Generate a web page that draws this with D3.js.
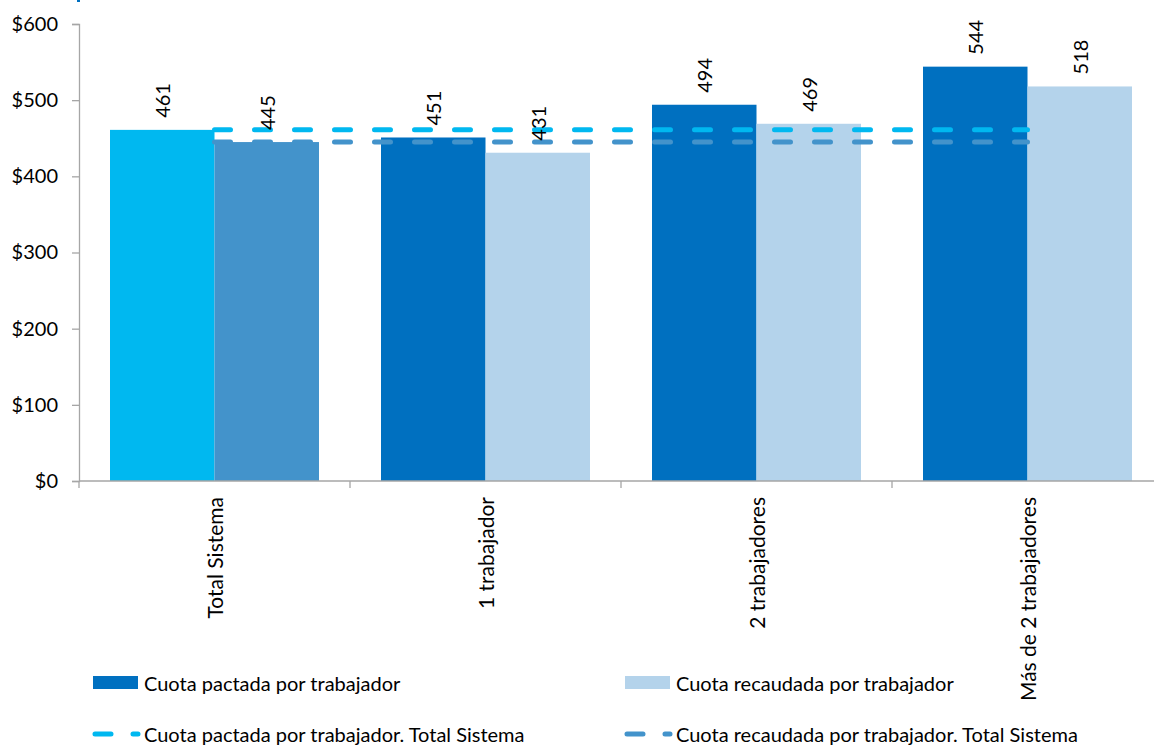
<!DOCTYPE html>
<html>
<head>
<meta charset="utf-8">
<script src="https://cdn.jsdelivr.net/npm/d3@7"></script>
<style>
  body { margin: 0; background: #fff; }
  text { font-family: Lato, "Noto Sans", sans-serif; fill: #000; }
</style>
</head>
<body>
<script>
var w = 1154;
var h = 746;

//Data
var categories = ["Total Sistema", "1 trabajador", "2 trabajadores", "Más de 2 trabajadores"];
var pactada = [461, 451, 494, 544];
var recaudada = [445, 431, 469, 518];
var totalPactada = 461;
var totalRecaudada = 445;
var yTicks = [0, 100, 200, 300, 400, 500, 600];
var legendNames = ["Cuota pactada por trabajador", "Cuota recaudada por trabajador",
  "Cuota pactada por trabajador. Total Sistema", "Cuota recaudada por trabajador. Total Sistema"];

//Colors: first group is drawn in its own colors
var cPactada = "#0070c0", cRecaudada = "#b4d3eb";
var cTotPactada = "#00b8f0", cTotRecaudada = "#4393cb";

var svg = d3.select("body")
  .append("svg")
  .attr("width", w)
  .attr("height", h);

var plotLeft = 79, plotRight = 1163, plotTop = 24, plotBottom = 481;

var x = d3.scaleBand()
  .domain(categories)
  .range([plotLeft, plotRight])
  .paddingInner(0)
  .paddingOuter(0);

var x1 = d3.scaleBand()
  .domain(["p", "r"])
  .range([0, x.bandwidth()])
  .paddingOuter(0.2967)
  .paddingInner(0);

var y = d3.scaleLinear()
  .domain([0, 600])
  .range([plotBottom, plotTop]);

//Y axis
var yAxis = svg.append("g")
  .attr("transform", "translate(" + plotLeft + ",0)")
  .call(d3.axisLeft(y).tickValues(yTicks).tickSize(7).tickPadding(14)
    .tickFormat(function(d) { return "$" + d; }));
yAxis.select(".domain").attr("stroke", "#a6a6a6").attr("stroke-width", 1.3);
yAxis.selectAll(".tick line").attr("stroke", "#a6a6a6").attr("stroke-width", 1.3);
yAxis.selectAll(".tick text").attr("font-size", 20).attr("fill", "#000")
  .style("font-family", "Lato, 'Noto Sans', sans-serif");

//Bars
var groups = svg.selectAll("g.grp")
  .data(categories)
  .enter()
  .append("g")
  .attr("class", "grp")
  .attr("transform", function(d) { return "translate(" + x(d) + ",0)"; });

groups.append("rect")
  .attr("x", x1("p"))
  .attr("width", x1.bandwidth())
  .attr("y", function(d, i) { return y(pactada[i]); })
  .attr("height", function(d, i) { return y(0) - y(pactada[i]); })
  .attr("fill", function(d, i) { return i == 0 ? cTotPactada : cPactada; });

groups.append("rect")
  .attr("x", x1("r"))
  .attr("width", x1.bandwidth())
  .attr("y", function(d, i) { return y(recaudada[i]); })
  .attr("height", function(d, i) { return y(0) - y(recaudada[i]); })
  .attr("fill", function(d, i) { return i == 0 ? cTotRecaudada : cRecaudada; });

//X axis (ticks between categories)
var xAxis = svg.append("g");
xAxis.append("line")
  .attr("x1", plotLeft).attr("x2", plotRight)
  .attr("y1", plotBottom).attr("y2", plotBottom)
  .attr("stroke", "#a6a6a6").attr("stroke-width", 1.3);
xAxis.selectAll("line.tk")
  .data(categories.concat(["end"]))
  .enter()
  .append("line")
  .attr("class", "tk")
  .attr("x1", function(d, i) { return plotLeft + i * x.bandwidth(); })
  .attr("x2", function(d, i) { return plotLeft + i * x.bandwidth(); })
  .attr("y1", plotBottom).attr("y2", plotBottom + 7)
  .attr("stroke", "#a6a6a6").attr("stroke-width", 1.3);
xAxis.selectAll("text")
  .data(categories)
  .enter()
  .append("text")
  .attr("transform", function(d) {
    return "translate(" + (x(d) + x.bandwidth() / 2) + "," + (plotBottom + 16) + ") rotate(-90)";
  })
  .attr("text-anchor", "end")
  .attr("dominant-baseline", "central")
  .attr("font-size", 21)
  .text(function(d) { return d; });

//Total Sistema reference lines
var line = d3.line()
  .x(function(d) { return x(d.c) + x.bandwidth() / 2; })
  .y(function(d) { return y(d.v); });

svg.append("path")
  .datum(categories.map(function(c) { return { c: c, v: totalRecaudada }; }))
  .attr("d", line)
  .attr("fill", "none")
  .attr("stroke", cTotRecaudada)
  .attr("stroke-width", 5)
  .attr("stroke-linecap", "round")
  .attr("stroke-dasharray", "16,24");

svg.append("path")
  .datum(categories.map(function(c) { return { c: c, v: totalPactada }; }))
  .attr("d", line)
  .attr("fill", "none")
  .attr("stroke", cTotPactada)
  .attr("stroke-width", 5)
  .attr("stroke-linecap", "round")
  .attr("stroke-dasharray", "16,24");

//Value labels
function addLabels(vals, key) {
  svg.selectAll("text.lbl" + key)
    .data(categories)
    .enter()
    .append("text")
    .attr("class", "lbl" + key)
    .attr("transform", function(d, i) {
      return "translate(" + (x(d) + x1(key) + x1.bandwidth() / 2) + "," + (y(vals[i]) - 12) + ") rotate(-90)";
    })
    .attr("text-anchor", "start")
    .attr("dominant-baseline", "central")
    .attr("font-size", 20)
    .text(function(d, i) { return vals[i]; });
}
addLabels(pactada, "p");
addLabels(recaudada, "r");

//Legend
var legend = svg.append("g");
var legendPos = [[93, 683], [625, 683], [93, 734], [625, 734]];

legend.append("rect").attr("x", legendPos[0][0]).attr("y", legendPos[0][1] - 7)
  .attr("width", 45).attr("height", 13).attr("fill", cPactada);
legend.append("rect").attr("x", legendPos[1][0]).attr("y", legendPos[1][1] - 7)
  .attr("width", 45).attr("height", 13).attr("fill", cRecaudada);
[cTotPactada, cTotRecaudada].forEach(function(c, i) {
  var p = legendPos[i + 2];
  legend.append("line")
    .attr("x1", p[0] + 2).attr("x2", p[0] + 45)
    .attr("y1", p[1]).attr("y2", p[1])
    .attr("stroke", c).attr("stroke-width", 5)
    .attr("stroke-linecap", "round")
    .attr("stroke-dasharray", "16,22");
});
legend.selectAll("text")
  .data(legendNames)
  .enter()
  .append("text")
  .attr("x", function(d, i) { return legendPos[i][0] + 51; })
  .attr("y", function(d, i) { return legendPos[i][1]; })
  .attr("dominant-baseline", "central")
  .attr("font-size", 20)
  .text(function(d) { return d; });

//cut-off title mark at the very top
svg.append("rect").attr("x", 77).attr("y", 0).attr("width", 3).attr("height", 2).attr("fill", "#0070c0");
</script>
</body>
</html>
